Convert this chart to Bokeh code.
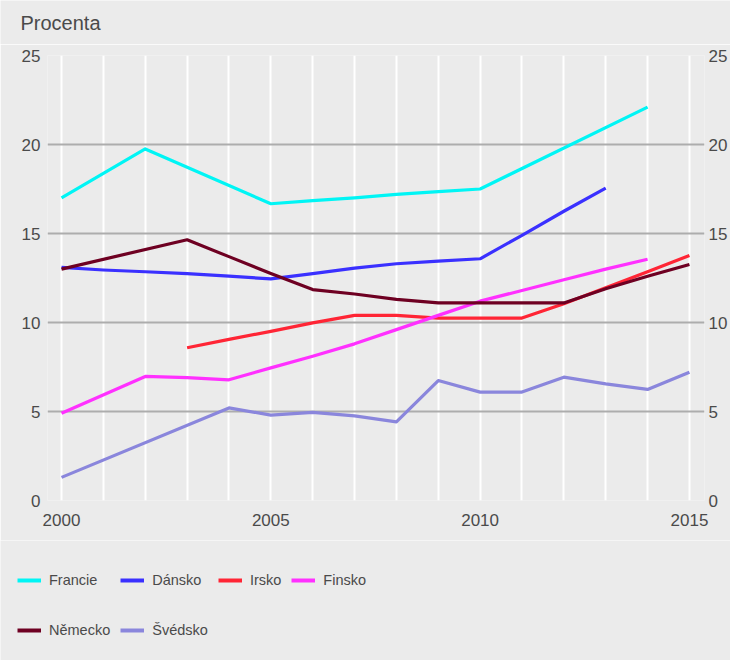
from bokeh.plotting import figure
from bokeh.models import (Range1d, LinearAxis, FixedTicker, Legend, LegendItem, Label)
from bokeh.embed import file_html
from bokeh.resources import INLINE

# ---- data ----
years_all = list(range(2000, 2016))
axis_years = [2000, 2005, 2010, 2015]
y_ticks = [0, 5, 10, 15, 20, 25]

francie_x = [2000, 2002, 2005, 2006, 2007, 2008, 2009, 2010, 2014]
francie_y = [17.0, 19.75, 16.67, 16.85, 17.0, 17.2, 17.35, 17.5, 22.1]

dansko_x = [2000, 2001, 2002, 2003, 2004, 2005, 2006, 2007, 2008, 2009, 2010, 2011, 2012, 2013]
dansko_y = [13.1, 12.95, 12.85, 12.75, 12.6, 12.45, 12.75, 13.05, 13.3, 13.45, 13.58, 14.9, 16.25, 17.55]

irsko_x = [2003, 2004, 2005, 2006, 2007, 2008, 2009, 2010, 2011, 2012, 2013, 2014, 2015]
irsko_y = [8.58, 9.05, 9.5, 9.98, 10.4, 10.4, 10.25, 10.25, 10.25, 11.05, 11.95, 12.85, 13.76]

finsko_x = [2000, 2002, 2003, 2004, 2005, 2006, 2007, 2008, 2009, 2010, 2011, 2012, 2013, 2014]
finsko_y = [4.9, 6.97, 6.9, 6.78, 7.45, 8.1, 8.8, 9.6, 10.4, 11.2, 11.8, 12.4, 13.0, 13.55]

nemecko_x = [2000, 2003, 2004, 2005, 2006, 2007, 2008, 2009, 2010, 2011, 2012, 2013, 2014, 2015]
nemecko_y = [13.0, 14.65, 13.7, 12.75, 11.85, 11.6, 11.3, 11.1, 11.1, 11.1, 11.1, 11.9, 12.6, 13.26]

svedsko_x = [2000, 2004, 2005, 2006, 2007, 2008, 2009, 2010, 2011, 2012, 2013, 2014, 2015]
svedsko_y = [1.3, 5.2, 4.8, 4.95, 4.75, 4.42, 6.74, 6.09, 6.09, 6.93, 6.55, 6.24, 7.21]

series = [
    ("Francie", francie_x, francie_y, "#00f5f5"),
    ("Dánsko", dansko_x, dansko_y, "#3a30ff"),
    ("Irsko", irsko_x, irsko_y, "#ff2535"),
    ("Finsko", finsko_x, finsko_y, "#ff30ff"),
    ("Německo", nemecko_x, nemecko_y, "#6e0022"),
    ("Švédsko", svedsko_x, svedsko_y, "#8a86dc"),
]
title_text = "Procenta"

FONT = "Liberation Sans"
BG = "#ebebeb"
TXT = "#4a4a4a"


def blank_panel(height):
    f = figure(width=730, height=height, output_backend="svg", toolbar_location=None,
               x_range=Range1d(0, 1), y_range=Range1d(0, 1),
               x_axis_location=None, y_axis_location=None,
               background_fill_color=BG, border_fill_color=BG,
               min_border=0, min_border_left=0, min_border_right=0,
               min_border_top=0, min_border_bottom=0, outline_line_color=None)
    f.grid.visible = False
    return f


# ---- title strip ----
tt = blank_panel(44)
tt.add_layout(Label(x=20, y=22, x_units="screen", y_units="screen", text=title_text,
                    text_font=FONT, text_font_size="20px", text_color=TXT,
                    text_align="left", text_baseline="middle"))

# ---- main chart ----
p = figure(width=730, height=496, output_backend="svg", toolbar_location=None,
           x_range=Range1d(1999.665, 2015.36), y_range=Range1d(0, 25),
           background_fill_color=BG, border_fill_color=BG,
           min_border_left=47, min_border_right=25, min_border_top=11,
           min_border_bottom=40, outline_line_color=None)


def style_axis(ax, standoff):
    ax.axis_line_color = None
    ax.major_tick_line_color = None
    ax.minor_tick_line_color = None
    ax.major_tick_out = 0
    ax.major_tick_in = 0
    ax.minor_tick_out = 0
    ax.minor_tick_in = 0
    ax.major_label_standoff = standoff
    ax.major_label_text_font = FONT
    ax.major_label_text_font_size = "17px"
    ax.major_label_text_color = TXT


xa = p.xaxis[0]
xa.ticker = FixedTicker(ticks=axis_years)
style_axis(xa, 13)

ya = p.yaxis[0]
ya.ticker = FixedTicker(ticks=y_ticks)
style_axis(ya, 7)

ra = LinearAxis(ticker=FixedTicker(ticks=y_ticks))
style_axis(ra, 4)
p.add_layout(ra, "right")

p.xgrid.ticker = FixedTicker(ticks=years_all)
p.xgrid.grid_line_color = "white"
p.xgrid.grid_line_width = 2
p.ygrid.ticker = FixedTicker(ticks=y_ticks)
p.ygrid.grid_line_color = "#adadad"
p.ygrid.grid_line_width = 2

for name, xs, ys, col in series:
    p.line(xs, ys, line_color=col, line_width=3.2, line_join="round")

# ---- legend strip (its frame shows no data, only the legend) ----
lg = blank_panel(120)
items = []
for name, xs, ys, col in series:
    r = lg.line(xs, ys, line_color=col, line_width=4)
    items.append(LegendItem(label=name, renderers=[r]))

legend = Legend(items=items, orientation="horizontal", ncols=4,
                location=(17, 10), border_line_color=None,
                background_fill_alpha=0, margin=0, padding=0,
                glyph_width=24, glyph_height=40, label_height=40,
                label_standoff=8, spacing=10,
                label_text_font=FONT, label_text_font_size="14.5px",
                label_text_color=TXT)
lg.add_layout(legend, "center")

open("out.html", "w").write(file_html([tt, p, lg], INLINE))
